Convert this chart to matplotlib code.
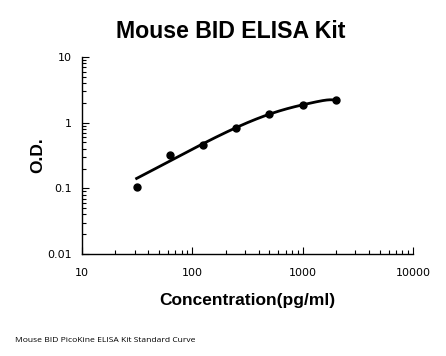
import numpy as np
import matplotlib
matplotlib.use("Agg")
import matplotlib.pyplot as plt
from matplotlib.ticker import LogLocator, NullFormatter, FixedLocator, FixedFormatter

title = "Mouse BID ELISA Kit"
xlabel = "Concentration(pg/ml)"
ylabel = "O.D."
footer = "Mouse BID PicoKine ELISA Kit Standard Curve"

conc = [31.25, 62.5, 125, 250, 500, 1000, 2000]
od = [0.103, 0.322, 0.457, 0.838, 1.35, 1.87, 2.18]

xticks = [10, 100, 1000, 10000]
xticklabels = ["10", "100", "1000", "10000"]
yticks = [0.01, 0.1, 1, 10]
yticklabels = ["0.01", "0.1", "1", "10"]

fig = plt.figure(figsize=(4.46, 3.56), dpi=100)
ax = fig.add_axes([82/446, 1-254/356, (413-82)/446, (254-57)/356])

# standard curve: 4th-order polynomial fit of the points
coef = np.polyfit(conc, od, 4)
xs = np.logspace(np.log10(conc[0]), np.log10(conc[-1]), 400)
ax.plot(xs, np.polyval(coef, xs), color="black", lw=2)
ax.scatter(conc, od, s=25, color="black", zorder=3)

ax.set_xscale("log")
ax.set_yscale("log")
ax.set_xlim(10, 10000)
ax.set_ylim(0.01, 10)
ax.xaxis.set_major_locator(FixedLocator(xticks))
ax.xaxis.set_major_formatter(FixedFormatter(xticklabels))
ax.yaxis.set_major_locator(FixedLocator(yticks))
ax.yaxis.set_major_formatter(FixedFormatter(yticklabels))
ax.xaxis.set_minor_locator(LogLocator(base=10, subs=np.arange(2, 10)))
ax.yaxis.set_minor_locator(LogLocator(base=10, subs=np.arange(2, 10)))
ax.xaxis.set_minor_formatter(NullFormatter())
ax.yaxis.set_minor_formatter(NullFormatter())
for s in ["top", "right"]:
    ax.spines[s].set_visible(False)
for s in ["left", "bottom"]:
    ax.spines[s].set_linewidth(1)
ax.tick_params(which="both", direction="in", width=0.8, labelsize=8, color="black")
ax.tick_params(which="major", length=5)
ax.tick_params(axis="x", which="major", pad=10)
ax.tick_params(axis="y", which="major", pad=7)
ax.tick_params(which="minor", length=3)
for lab in ax.get_xticklabels() + ax.get_yticklabels():
    lab.set_fontfamily("DejaVu Sans")

fig.text(231/446, 1-32/356, title, ha="center", va="center", fontsize=16.7,
         fontweight="bold", family="Liberation Sans")
fig.text(247/446, 1-301/356, xlabel, ha="center", va="center", fontsize=12.5,
         fontweight="bold", family="Liberation Sans")
fig.text(38/446, 1-155/356, ylabel, ha="center", va="center", fontsize=12.5,
         fontweight="bold", family="Liberation Sans", rotation=90)
fig.text(15/446, 1-340/356, footer, ha="left", va="center", fontsize=6.1,
         family="Open Sans")

fig.savefig("out.png", dpi=100)
